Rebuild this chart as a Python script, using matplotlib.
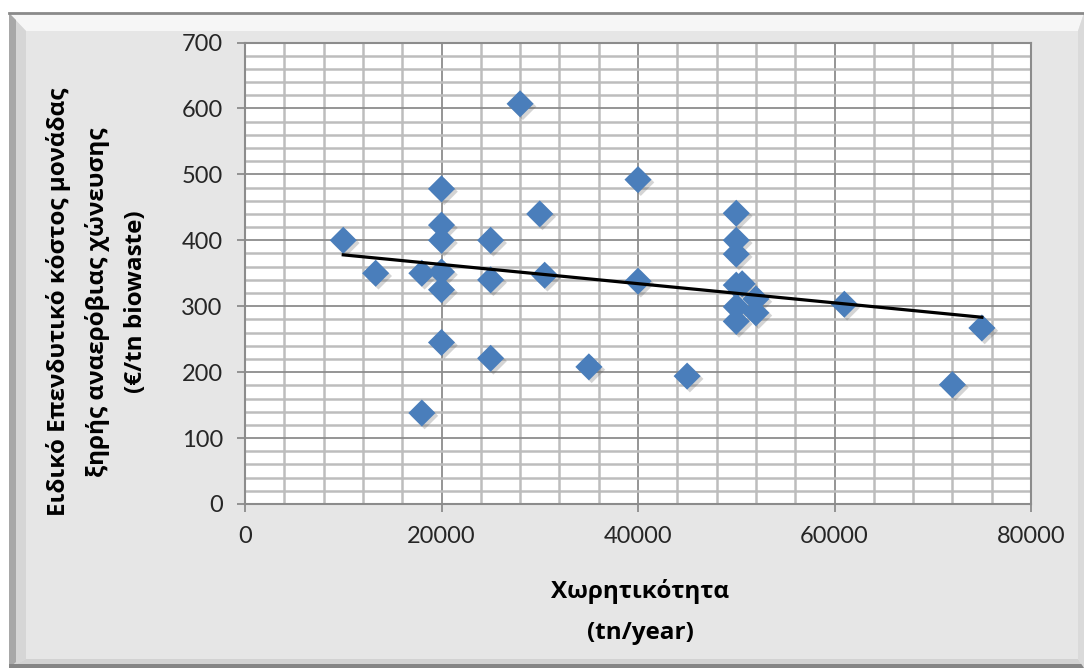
import numpy as np
import matplotlib
matplotlib.use("Agg")
import matplotlib.pyplot as plt
import matplotlib.patheffects as pe
from matplotlib.patches import Polygon, Rectangle
from matplotlib.ticker import MultipleLocator

# Χωρητικότητα μονάδας (tn/year) και ειδικό κόστος (€/tn biowaste)
capacity = [10000, 13300, 18000, 18000, 20000, 20000, 20000, 20000, 20000, 20000,
            25000, 25000, 25000, 28000, 30000, 30500, 35000, 40000, 40000, 45000,
            50000, 50000, 50000, 50000, 50600, 50000, 50000, 52000, 52000, 61000,
            72000, 75000]
unit_cost = [400, 350, 350, 138, 478, 423, 400, 352, 325, 245,
             400, 340, 221, 607, 440, 347, 208, 492, 338, 194,
             441, 400, 379, 332, 334, 299, 277, 311, 290, 303,
             181, 267]

x_ticks = [0, 20000, 40000, 60000, 80000]
y_ticks = [0, 100, 200, 300, 400, 500, 600, 700]

W, H = 1084, 671
fig = plt.figure(figsize=(W / 100, H / 100), dpi=100, facecolor="white")

# πλαίσιο με ανάγλυφο περίγραμμα
bg = fig.add_axes([0, 0, 1, 1], zorder=-5)
bg.set_xlim(0, W)
bg.set_ylim(H, 0)
bg.axis("off")
L, T, R, B = 9, 13, 1084, 668
bg.add_patch(Rectangle((L, T), R - L, B - T, facecolor="#E6E6E6", edgecolor="none"))
bg.add_patch(Polygon([(L, T), (R, T), (1078, 31), (26, 31)], facecolor="#F6F6F6", edgecolor="none"))
bg.add_patch(Polygon([(L, T), (26, 31), (26, 659), (L, B)], facecolor="#D6D6D6", edgecolor="none"))
bg.add_patch(Polygon([(L, T), (16, 20), (16, 662), (L, B)], facecolor="#A8A8A8", edgecolor="none"))
bg.add_patch(Polygon([(L, B), (26, 659), (1078, 659), (R, B)], facecolor="#D2D2D2", edgecolor="none"))
bg.add_patch(Rectangle((L, 664), R - L, 4, facecolor="#858585", edgecolor="none"))
bg.add_patch(Polygon([(1078, 31), (R, T), (R, B), (1078, 659)], facecolor="#DADADA", edgecolor="none"))
bg.plot([L, R], [T, T], color="#8A8A8A", lw=2)

ax = fig.add_axes([245 / W, 1 - 504 / H, (1031 - 245) / W, (504 - 42.5) / H])
ax.set_facecolor("white")
ax.set_xlim(0, 80000)
ax.set_ylim(0, 700)
ax.xaxis.set_minor_locator(MultipleLocator(4000))
ax.yaxis.set_minor_locator(MultipleLocator(20))
ax.set_xticks(x_ticks)
ax.set_yticks(y_ticks)
ax.grid(which="minor", color="#BDBDBD", lw=1.8)
ax.grid(which="major", color="#8C8C8C", lw=1.3)
ax.set_axisbelow(True)
for s in ax.spines.values():
    s.set_color("#8C8C8C")
    s.set_linewidth(1.5)
ax.tick_params(which="major", direction="out", length=6, width=1.3, color="#8C8C8C", pad=10,
               labelsize=17, labelcolor="#262626")
ax.tick_params(which="minor", length=0)
for lab in ax.get_xticklabels() + ax.get_yticklabels():
    lab.set_family(["Lato", "DejaVu Sans"])

ax.scatter(capacity, unit_cost, marker="D", s=190, color="#4A7EBB", linewidths=0, zorder=3,
           path_effects=[pe.SimplePatchShadow(offset=(2, -2), shadow_rgbFace="#555555", alpha=0.25),
                         pe.Normal()])

# γραμμική τάση
coef = np.polyfit(capacity, unit_cost, 1)
xs = np.array([min(capacity), max(capacity)])
ax.plot(xs, np.polyval(coef, xs), color="black", lw=2.3, zorder=4)

title_font = dict(family=["Open Sans", "DejaVu Sans"], fontweight="bold", fontsize=17.5, color="black")
fig.text(97 / W, 1 - 302 / H,
         "Ειδικό Επενδυτικό κόστος μονάδας\nξηρής αναερόβιας χώνευσης\n(€/tn biowaste)",
         rotation=90, ha="center", va="center", multialignment="center", linespacing=1.75,
         **title_font)
fig.text(640 / W, 1 - 591 / H, "Χωρητικότητα", ha="center", va="center", **title_font)
fig.text(640 / W, 1 - 633 / H, "(tn/year)", ha="center", va="center", **title_font)

fig.savefig("out.png", dpi=100, facecolor="white")
